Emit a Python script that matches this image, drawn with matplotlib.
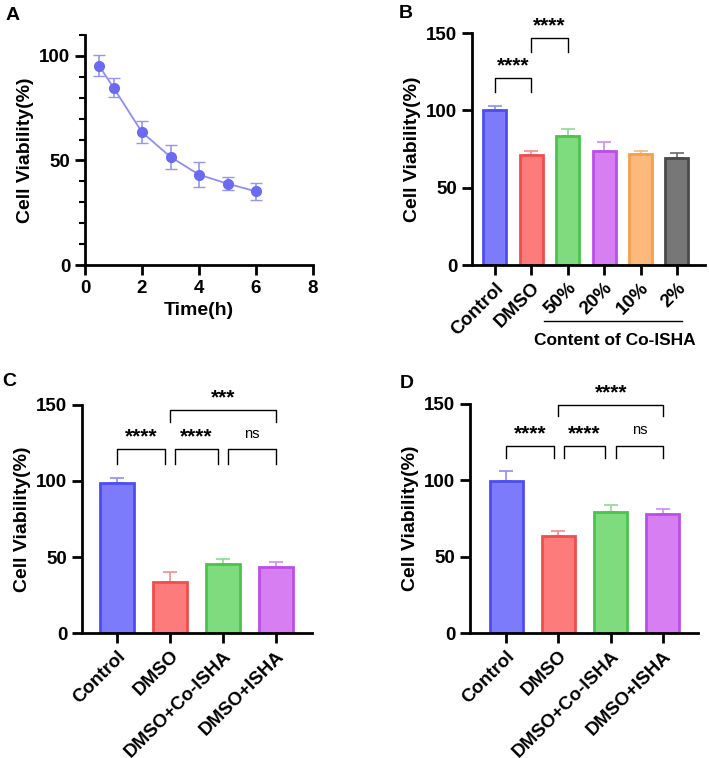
import matplotlib
matplotlib.use("Agg")
import matplotlib.pyplot as plt
import numpy as np
from matplotlib.ticker import MultipleLocator

plt.rcParams['font.family'] = ['Liberation Sans', 'DejaVu Sans']
plt.rcParams['font.weight'] = 'bold'

# ---- data ----
time_h = [0.5, 1, 2, 3, 4, 5, 6]
via_time = [95.2, 84.8, 63.5, 51.7, 43.2, 38.9, 35.2]
err_time = [5.0, 4.5, 5.3, 5.6, 5.9, 3.0, 4.0]

b_labels = ['Control', 'DMSO', '50%', '20%', '10%', '2%']
b_vals = [100.4, 71.3, 83.6, 74.0, 71.7, 69.5]
b_err = [2.6, 2.7, 4.3, 5.3, 2.3, 2.9]

cd_labels = ['Control', 'DMSO', 'DMSO+Co-ISHA', 'DMSO+ISHA']
c_vals = [98.9, 33.4, 45.7, 43.5]
c_err = [3.3, 6.8, 3.1, 3.1]
d_vals = [99.3, 63.3, 79.0, 78.2]
d_err = [6.6, 3.3, 5.0, 3.2]

fills = ['#7b7bfb', '#fd7b7b', '#7edc7e', '#d67ef2', '#fdb97b', '#777777']
edges = ['#4d4df2', '#f24d4d', '#4ac44a', '#bb4ee8', '#f7a04c', '#4a4a4a']
errc = ['#8c8cf6', '#f68c8c', '#8cdc8c', '#cf8cf0', '#f8b880', '#6a6a6a']

fig = plt.figure(figsize=(7.09, 7.58), dpi=100)

TICK = 13.5


def style(ax):
    for s in ['top', 'right']:
        ax.spines[s].set_visible(False)
    for s in ['left', 'bottom']:
        ax.spines[s].set_linewidth(2)
    ax.tick_params(width=2, length=7, labelsize=TICK)
    for t in ax.get_xticklabels() + ax.get_yticklabels():
        t.set_fontweight('bold')


def bracket(ax, x1, x2, top, leg, text, ns=False):
    ax.plot([x1, x1, x2, x2], [leg, top, top, leg], color='black', lw=1, clip_on=False)
    if ns:
        ax.text((x1 + x2) / 2, top + 5.5, text, ha='center', va='bottom',
                fontsize=10.5, fontweight='normal', clip_on=False)
    else:
        ax.text((x1 + x2) / 2, top + 1.5, text, ha='center', va='bottom',
                fontsize=15, fontweight='bold', clip_on=False)


def bars(ax, vals, errs, labels):
    x = np.arange(len(vals))
    ax.bar(x, vals, width=0.63, color=fills[:len(vals)], edgecolor=edges[:len(vals)], linewidth=2, zorder=2)
    for i in range(len(vals)):
        ax.errorbar(x[i], vals[i], yerr=[[0], [errs[i]]], color=errc[i], capsize=5,
                    elinewidth=1.2, capthick=1.2, zorder=1)
    ax.set_xticks(x)
    ax.set_xticklabels(labels, rotation=45, ha='right', rotation_mode='anchor')
    ax.set_ylim(0, 150)
    ax.set_yticks([0, 50, 100, 150])
    ax.set_ylabel('Cell Viability(%)', fontsize=14, fontweight='bold')
    style(ax)


# ---- A ----
axA = fig.add_axes([85 / 709, 1 - 265 / 758, 228 / 709, 230 / 758])
axA.errorbar(time_h, via_time, yerr=err_time, fmt='-o', color='#6a6af2', ecolor='#9595f5',
             mfc='#6a6af2', mec='#6a6af2', markersize=7, lw=1.3, capsize=4, elinewidth=1.2)
axA.lines[0].set_color('#8e8ef5')
axA.lines[0].set_markerfacecolor('#6a6af2')
axA.lines[0].set_markeredgecolor('#6a6af2')
axA.set_xlim(0, 8)
axA.set_ylim(0, 110)
axA.set_xticks([0, 2, 4, 6, 8])
axA.set_yticks([0, 50, 100])
axA.yaxis.set_minor_locator(MultipleLocator(10))
axA.tick_params(axis='y', which='minor', width=1.5, length=4)
axA.set_xlabel('Time(h)', fontsize=14, fontweight='bold')
axA.set_ylabel('Cell Viability(%)', fontsize=14, fontweight='bold')
style(axA)

# ---- B ----
axB = fig.add_axes([472 / 709, 1 - 265 / 758, 233 / 709, 232 / 758])
bars(axB, b_vals, b_err, b_labels)
axB.set_xlim(-0.63, 5.77)
bracket(axB, 0, 1, 121, 112, '****')
bracket(axB, 1, 2, 147, 138, '****')
axB.plot([1.35, 5.15], [-0.241, -0.241], color='black', lw=1,
         transform=axB.get_xaxis_transform(), clip_on=False)
axB.text(3.3, -0.325, 'Content of Co-ISHA', transform=axB.get_xaxis_transform(),
         ha='center', va='center', fontsize=12.5, fontweight='bold')

# ---- C ----
axC = fig.add_axes([82 / 709, 1 - 633 / 758, 230 / 709, 228 / 758])
bars(axC, c_vals, c_err, cd_labels)
axC.set_xlim(-0.66, 3.68)
bracket(axC, 0, 0.9, 121, 111, '****')
bracket(axC, 1.1, 1.9, 121, 111, '****')
bracket(axC, 2.1, 3.0, 121, 111, 'ns', ns=True)
bracket(axC, 1.0, 3.0, 147, 139, '***')

# ---- D ----
axD = fig.add_axes([470 / 709, 1 - 633 / 758, 228 / 709, 229 / 758])
bars(axD, d_vals, d_err, cd_labels)
axD.set_xlim(-0.69, 3.67)
bracket(axD, 0, 0.92, 122.7, 114.6, '****')
bracket(axD, 1.1, 1.9, 122.7, 114.6, '****')
bracket(axD, 2.1, 3.0, 122.7, 114.6, 'ns', ns=True)
bracket(axD, 1.0, 3.0, 149.6, 142, '****')

# panel letters
for lab, px, py in [('A', 13, 15), ('B', 406, 13), ('C', 9, 382), ('D', 407, 384)]:
    fig.text(px / 709, 1 - py / 758, lab, fontsize=14, fontweight='bold', ha='center', va='center')

fig.savefig('out.png', dpi=100)
